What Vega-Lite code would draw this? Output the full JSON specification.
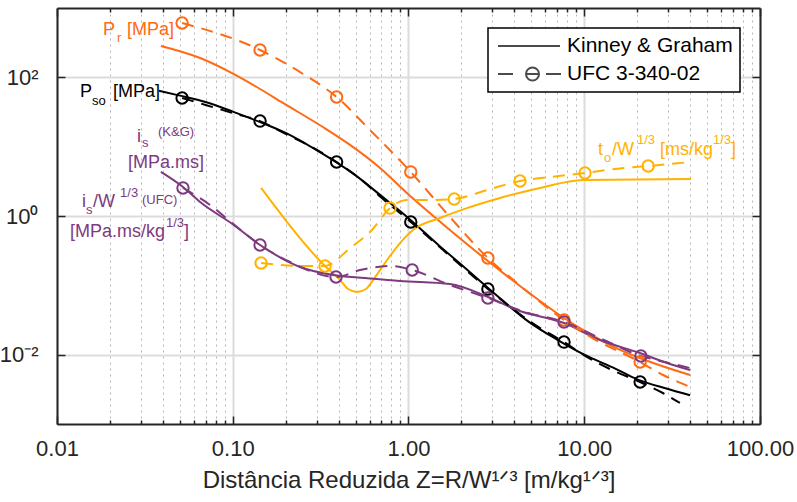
{
  "$schema": "https://vega.github.io/schema/vega-lite/v6.json",
  "width": 703,
  "height": 416,
  "autosize": "none",
  "padding": {"left": 57, "top": 8, "right": 37, "bottom": 78},
  "background": "white",
  "config": {
    "font": "Liberation Sans",
    "view": {"stroke": null},
    "axis": {"labelFont": "Liberation Sans", "titleFont": "Liberation Sans"},
    "legend": {"strokeWidth": 1.5}
  },
  "datasets": {
    "curves": [
      {"series": "Pso", "source": "Kinney & Graham", "z": 0.038, "v": 64},
      {"series": "Pso", "source": "Kinney & Graham", "z": 0.05, "v": 54.5},
      {"series": "Pso", "source": "Kinney & Graham", "z": 0.07, "v": 44},
      {"series": "Pso", "source": "Kinney & Graham", "z": 0.1, "v": 32},
      {"series": "Pso", "source": "Kinney & Graham", "z": 0.15, "v": 21.5},
      {"series": "Pso", "source": "Kinney & Graham", "z": 0.2, "v": 15.8},
      {"series": "Pso", "source": "Kinney & Graham", "z": 0.3, "v": 8.9},
      {"series": "Pso", "source": "Kinney & Graham", "z": 0.5, "v": 3.85},
      {"series": "Pso", "source": "Kinney & Graham", "z": 0.7, "v": 1.95},
      {"series": "Pso", "source": "Kinney & Graham", "z": 1.0, "v": 0.93},
      {"series": "Pso", "source": "Kinney & Graham", "z": 1.5, "v": 0.37},
      {"series": "Pso", "source": "Kinney & Graham", "z": 2.0, "v": 0.198},
      {"series": "Pso", "source": "Kinney & Graham", "z": 3.0, "v": 0.081},
      {"series": "Pso", "source": "Kinney & Graham", "z": 5.0, "v": 0.028},
      {"series": "Pso", "source": "Kinney & Graham", "z": 7.0, "v": 0.0165},
      {"series": "Pso", "source": "Kinney & Graham", "z": 10.0, "v": 0.0100},
      {"series": "Pso", "source": "Kinney & Graham", "z": 15.0, "v": 0.0063},
      {"series": "Pso", "source": "Kinney & Graham", "z": 20.0, "v": 0.0044},
      {"series": "Pso", "source": "Kinney & Graham", "z": 30.0, "v": 0.0032},
      {"series": "Pso", "source": "Kinney & Graham", "z": 40.0, "v": 0.0026},

      {"series": "Pso", "source": "UFC 3-340-02", "z": 0.0515, "v": 50.4},
      {"series": "Pso", "source": "UFC 3-340-02", "z": 0.07, "v": 40},
      {"series": "Pso", "source": "UFC 3-340-02", "z": 0.1, "v": 30.5},
      {"series": "Pso", "source": "UFC 3-340-02", "z": 0.143, "v": 23.4},
      {"series": "Pso", "source": "UFC 3-340-02", "z": 0.2, "v": 15.3},
      {"series": "Pso", "source": "UFC 3-340-02", "z": 0.27, "v": 10.5},
      {"series": "Pso", "source": "UFC 3-340-02", "z": 0.39, "v": 6.0},
      {"series": "Pso", "source": "UFC 3-340-02", "z": 0.55, "v": 3.2},
      {"series": "Pso", "source": "UFC 3-340-02", "z": 0.7, "v": 1.85},
      {"series": "Pso", "source": "UFC 3-340-02", "z": 1.03, "v": 0.82},
      {"series": "Pso", "source": "UFC 3-340-02", "z": 1.5, "v": 0.36},
      {"series": "Pso", "source": "UFC 3-340-02", "z": 2.0, "v": 0.19},
      {"series": "Pso", "source": "UFC 3-340-02", "z": 2.83, "v": 0.0885},
      {"series": "Pso", "source": "UFC 3-340-02", "z": 4.0, "v": 0.044},
      {"series": "Pso", "source": "UFC 3-340-02", "z": 5.5, "v": 0.025},
      {"series": "Pso", "source": "UFC 3-340-02", "z": 7.67, "v": 0.0152},
      {"series": "Pso", "source": "UFC 3-340-02", "z": 10.0, "v": 0.0098},
      {"series": "Pso", "source": "UFC 3-340-02", "z": 14.0, "v": 0.0062},
      {"series": "Pso", "source": "UFC 3-340-02", "z": 20.8, "v": 0.00403},
      {"series": "Pso", "source": "UFC 3-340-02", "z": 28.0, "v": 0.0028},
      {"series": "Pso", "source": "UFC 3-340-02", "z": 35.0, "v": 0.00201},

      {"series": "Pr", "source": "Kinney & Graham", "z": 0.039, "v": 283},
      {"series": "Pr", "source": "Kinney & Graham", "z": 0.0652, "v": 190},
      {"series": "Pr", "source": "Kinney & Graham", "z": 0.0991, "v": 115},
      {"series": "Pr", "source": "Kinney & Graham", "z": 0.143, "v": 67.9},
      {"series": "Pr", "source": "Kinney & Graham", "z": 0.193, "v": 42.7},
      {"series": "Pr", "source": "Kinney & Graham", "z": 0.326, "v": 19.2},
      {"series": "Pr", "source": "Kinney & Graham", "z": 0.465, "v": 10.6},
      {"series": "Pr", "source": "Kinney & Graham", "z": 0.689, "v": 4.92},
      {"series": "Pr", "source": "Kinney & Graham", "z": 0.993, "v": 2.07},
      {"series": "Pr", "source": "Kinney & Graham", "z": 1.72, "v": 0.628},
      {"series": "Pr", "source": "Kinney & Graham", "z": 2.83, "v": 0.224},
      {"series": "Pr", "source": "Kinney & Graham", "z": 4.31, "v": 0.0977},
      {"series": "Pr", "source": "Kinney & Graham", "z": 7.67, "v": 0.0338},
      {"series": "Pr", "source": "Kinney & Graham", "z": 9.84, "v": 0.0227},
      {"series": "Pr", "source": "Kinney & Graham", "z": 14.0, "v": 0.01377},
      {"series": "Pr", "source": "Kinney & Graham", "z": 20.7, "v": 0.00895},
      {"series": "Pr", "source": "Kinney & Graham", "z": 40.0, "v": 0.00509},

      {"series": "Pr", "source": "UFC 3-340-02", "z": 0.0515, "v": 608},
      {"series": "Pr", "source": "UFC 3-340-02", "z": 0.143, "v": 248},
      {"series": "Pr", "source": "UFC 3-340-02", "z": 0.2415, "v": 119},
      {"series": "Pr", "source": "UFC 3-340-02", "z": 0.39, "v": 52.0},
      {"series": "Pr", "source": "UFC 3-340-02", "z": 0.619, "v": 16.3},
      {"series": "Pr", "source": "UFC 3-340-02", "z": 1.03, "v": 4.32},
      {"series": "Pr", "source": "UFC 3-340-02", "z": 1.72, "v": 0.967},
      {"series": "Pr", "source": "UFC 3-340-02", "z": 2.83, "v": 0.248},
      {"series": "Pr", "source": "UFC 3-340-02", "z": 4.14, "v": 0.108},
      {"series": "Pr", "source": "UFC 3-340-02", "z": 7.67, "v": 0.0316},
      {"series": "Pr", "source": "UFC 3-340-02", "z": 11.2, "v": 0.0172},
      {"series": "Pr", "source": "UFC 3-340-02", "z": 20.8, "v": 0.00783},
      {"series": "Pr", "source": "UFC 3-340-02", "z": 28.1, "v": 0.00509},
      {"series": "Pr", "source": "UFC 3-340-02", "z": 38.9, "v": 0.00353},

      {"series": "to", "source": "Kinney & Graham", "z": 0.145, "v": 2.54},
      {"series": "to", "source": "Kinney & Graham", "z": 0.335, "v": 0.19},
      {"series": "to", "source": "Kinney & Graham", "z": 0.408, "v": 0.119},
      {"series": "to", "source": "Kinney & Graham", "z": 0.453, "v": 0.0885},
      {"series": "to", "source": "Kinney & Graham", "z": 0.509, "v": 0.0802},
      {"series": "to", "source": "Kinney & Graham", "z": 0.573, "v": 0.0885},
      {"series": "to", "source": "Kinney & Graham", "z": 0.628, "v": 0.119},
      {"series": "to", "source": "Kinney & Graham", "z": 0.755, "v": 0.232},
      {"series": "to", "source": "Kinney & Graham", "z": 0.895, "v": 0.407},
      {"series": "to", "source": "Kinney & Graham", "z": 1.06, "v": 0.628},
      {"series": "to", "source": "Kinney & Graham", "z": 1.51, "v": 0.935},
      {"series": "to", "source": "Kinney & Graham", "z": 2.15, "v": 1.30},
      {"series": "to", "source": "Kinney & Graham", "z": 3.32, "v": 1.82},
      {"series": "to", "source": "Kinney & Graham", "z": 5.6, "v": 2.54},
      {"series": "to", "source": "Kinney & Graham", "z": 9.84, "v": 3.30},
      {"series": "to", "source": "Kinney & Graham", "z": 40.5, "v": 3.41},

      {"series": "to", "source": "UFC 3-340-02", "z": 0.145, "v": 0.21},
      {"series": "to", "source": "UFC 3-340-02", "z": 0.2415, "v": 0.19},
      {"series": "to", "source": "UFC 3-340-02", "z": 0.335, "v": 0.19},
      {"series": "to", "source": "UFC 3-340-02", "z": 0.465, "v": 0.345},
      {"series": "to", "source": "UFC 3-340-02", "z": 0.619, "v": 0.628},
      {"series": "to", "source": "UFC 3-340-02", "z": 0.785, "v": 1.30},
      {"series": "to", "source": "UFC 3-340-02", "z": 0.981, "v": 1.70},
      {"series": "to", "source": "UFC 3-340-02", "z": 1.325, "v": 1.70},
      {"series": "to", "source": "UFC 3-340-02", "z": 1.82, "v": 1.76},
      {"series": "to", "source": "UFC 3-340-02", "z": 2.8, "v": 2.37},
      {"series": "to", "source": "UFC 3-340-02", "z": 4.31, "v": 3.20},
      {"series": "to", "source": "UFC 3-340-02", "z": 6.38, "v": 3.65},
      {"series": "to", "source": "UFC 3-340-02", "z": 10.1, "v": 4.17},
      {"series": "to", "source": "UFC 3-340-02", "z": 15.0, "v": 4.77},
      {"series": "to", "source": "UFC 3-340-02", "z": 23.1, "v": 5.26},
      {"series": "to", "source": "UFC 3-340-02", "z": 40.0, "v": 6.0},

      {"series": "is", "source": "Kinney & Graham", "z": 0.039, "v": 4.32},
      {"series": "is", "source": "Kinney & Graham", "z": 0.0521, "v": 2.62},
      {"series": "is", "source": "Kinney & Graham", "z": 0.0652, "v": 1.59},
      {"series": "is", "source": "Kinney & Graham", "z": 0.1, "v": 0.76},
      {"series": "is", "source": "Kinney & Graham", "z": 0.143, "v": 0.382},
      {"series": "is", "source": "Kinney & Graham", "z": 0.2415, "v": 0.1837},
      {"series": "is", "source": "Kinney & Graham", "z": 0.372, "v": 0.141},
      {"series": "is", "source": "Kinney & Graham", "z": 0.566, "v": 0.1276},
      {"series": "is", "source": "Kinney & Graham", "z": 0.895, "v": 0.1154},
      {"series": "is", "source": "Kinney & Graham", "z": 1.72, "v": 0.1045},
      {"series": "is", "source": "Kinney & Graham", "z": 2.83, "v": 0.0679},
      {"series": "is", "source": "Kinney & Graham", "z": 4.14, "v": 0.0441},
      {"series": "is", "source": "Kinney & Graham", "z": 7.67, "v": 0.0286},
      {"series": "is", "source": "Kinney & Graham", "z": 12.3, "v": 0.01626},
      {"series": "is", "source": "Kinney & Graham", "z": 20.7, "v": 0.01056},
      {"series": "is", "source": "Kinney & Graham", "z": 29.6, "v": 0.00759},
      {"series": "is", "source": "Kinney & Graham", "z": 40.0, "v": 0.00601},

      {"series": "is", "source": "UFC 3-340-02", "z": 0.0521, "v": 2.54},
      {"series": "is", "source": "UFC 3-340-02", "z": 0.0743, "v": 1.44},
      {"series": "is", "source": "UFC 3-340-02", "z": 0.1, "v": 0.78},
      {"series": "is", "source": "UFC 3-340-02", "z": 0.143, "v": 0.382},
      {"series": "is", "source": "UFC 3-340-02", "z": 0.212, "v": 0.217},
      {"series": "is", "source": "UFC 3-340-02", "z": 0.387, "v": 0.1318},
      {"series": "is", "source": "UFC 3-340-02", "z": 0.53, "v": 0.1663},
      {"series": "is", "source": "UFC 3-340-02", "z": 0.8, "v": 0.19},
      {"series": "is", "source": "UFC 3-340-02", "z": 1.05, "v": 0.1663},
      {"series": "is", "source": "UFC 3-340-02", "z": 1.72, "v": 0.1011},
      {"series": "is", "source": "UFC 3-340-02", "z": 2.83, "v": 0.0657},
      {"series": "is", "source": "UFC 3-340-02", "z": 4.6, "v": 0.0412},
      {"series": "is", "source": "UFC 3-340-02", "z": 7.67, "v": 0.0296},
      {"series": "is", "source": "UFC 3-340-02", "z": 12.3, "v": 0.01738},
      {"series": "is", "source": "UFC 3-340-02", "z": 21.0, "v": 0.00957},
      {"series": "is", "source": "UFC 3-340-02", "z": 28.8, "v": 0.00783},
      {"series": "is", "source": "UFC 3-340-02", "z": 40.0, "v": 0.00642}
    ],
    "markers": [
      {"series": "Pso", "z": 0.0515, "v": 50.4},
      {"series": "Pso", "z": 0.143, "v": 23.4},
      {"series": "Pso", "z": 0.39, "v": 6.0},
      {"series": "Pso", "z": 1.03, "v": 0.82},
      {"series": "Pso", "z": 2.83, "v": 0.0885},
      {"series": "Pso", "z": 7.67, "v": 0.0152},
      {"series": "Pso", "z": 20.8, "v": 0.00403},
      {"series": "Pr", "z": 0.0515, "v": 608},
      {"series": "Pr", "z": 0.143, "v": 248},
      {"series": "Pr", "z": 0.39, "v": 52.0},
      {"series": "Pr", "z": 1.03, "v": 4.32},
      {"series": "Pr", "z": 2.83, "v": 0.248},
      {"series": "Pr", "z": 7.67, "v": 0.0316},
      {"series": "Pr", "z": 20.8, "v": 0.00783},
      {"series": "is", "z": 0.0521, "v": 2.54},
      {"series": "is", "z": 0.143, "v": 0.382},
      {"series": "is", "z": 0.387, "v": 0.1318},
      {"series": "is", "z": 1.05, "v": 0.1663},
      {"series": "is", "z": 2.83, "v": 0.0657},
      {"series": "is", "z": 7.67, "v": 0.0296},
      {"series": "is", "z": 21.0, "v": 0.00957},
      {"series": "to", "z": 0.145, "v": 0.21},
      {"series": "to", "z": 0.335, "v": 0.19},
      {"series": "to", "z": 0.785, "v": 1.30},
      {"series": "to", "z": 1.82, "v": 1.76},
      {"series": "to", "z": 4.31, "v": 3.20},
      {"series": "to", "z": 10.1, "v": 4.17},
      {"series": "to", "z": 23.1, "v": 5.26}
    ],
    "labels": [
      {"series": "Pr", "part": "main", "z": 0.01828, "v": 407.9, "text": "P"},
      {"series": "Pr", "part": "script", "z": 0.02195, "v": 323.2, "text": "r"},
      {"series": "Pr", "part": "main", "z": 0.02502, "v": 407.9, "text": "[MPa]"},
      {"series": "Pso", "part": "main", "z": 0.01352, "v": 52.03, "text": "P"},
      {"series": "Pso", "part": "script", "z": 0.01581, "v": 39.89, "text": "so"},
      {"series": "Pso", "part": "main", "z": 0.02083, "v": 52.03, "text": "[MPa]"},
      {"series": "is", "part": "main", "z": 0.02851, "v": 11.67, "text": "i"},
      {"series": "is", "part": "script", "z": 0.03046, "v": 9.888, "text": "s"},
      {"series": "is", "part": "script", "z": 0.03755, "v": 14.25, "text": "(K&G)"},
      {"series": "is", "part": "main", "z": 0.02535, "v": 4.922, "text": "[MPa.ms]"},
      {"series": "is", "part": "main", "z": 0.01388, "v": 1.348, "text": "i"},
      {"series": "is", "part": "script", "z": 0.01462, "v": 1.068, "text": "s"},
      {"series": "is", "part": "main", "z": 0.01602, "v": 1.348, "text": "/W"},
      {"series": "is", "part": "script", "z": 0.02284, "v": 1.879, "text": "1/3"},
      {"series": "is", "part": "script", "z": 0.03046, "v": 1.489, "text": "(UFC)"},
      {"series": "is", "part": "main", "z": 0.01186, "v": 0.4977, "text": "[MPa.ms/kg"},
      {"series": "is", "part": "script", "z": 0.04172, "v": 0.6937, "text": "1/3"},
      {"series": "is", "part": "main", "z": 0.0528, "v": 0.4977, "text": "]"},
      {"series": "to", "part": "main", "z": 11.97, "v": 7.58, "text": "t"},
      {"series": "to", "part": "script", "z": 12.96, "v": 6.007, "text": "o"},
      {"series": "to", "part": "main", "z": 14.38, "v": 7.58, "text": "/W"},
      {"series": "to", "part": "script", "z": 19.96, "v": 10.92, "text": "1/3"},
      {"series": "to", "part": "main", "z": 26.98, "v": 7.58, "text": "[ms/kg"},
      {"series": "to", "part": "script", "z": 54.03, "v": 10.92, "text": "1/3"},
      {"series": "to", "part": "main", "z": 68.39, "v": 7.58, "text": "]"}
    ]
  },
  "layer": [
    {
      "data": {"name": "curves"},
      "transform": [{"filter": "datum.source === 'Kinney & Graham'"}],
      "mark": {"type": "line", "strokeWidth": 2, "interpolate": "monotone"},
      "encoding": {
        "x": {
          "field": "z", "type": "quantitative",
          "scale": {"type": "log", "domain": [0.01, 100], "nice": false},
          "axis": {
            "orient": "bottom",
            "values": [0.01,0.02,0.03,0.04,0.05,0.06,0.07,0.08,0.09,0.1,0.2,0.3,0.4,0.5,0.6,0.7,0.8,0.9,1,2,3,4,5,6,7,8,9,10,20,30,40,50,60,70,80,90,100],
            "title": "Distância Reduzida Z=R/W¹ᐟ³ [m/kg¹ᐟ³]",
            "titleFontSize": 24, "titleFontWeight": "normal", "titleColor": "#262626", "titlePadding": 5,
            "labelExpr": "indexof([0.01,0.1,1,10,100], datum.value) >= 0 ? format(datum.value, '.2f') : ''",
            "labelFontSize": 22, "labelColor": "#262626", "labelPadding": 22,
            "labelFlush": false, "labelOverlap": false, "labelBound": false,
            "tickSize": {"condition": {"test": "indexof([0.01,0.1,1,10,100], datum.value) >= 0", "value": -8}, "value": -4},
            "tickWidth": 1.5, "tickColor": "#262626",
            "domainColor": "#262626", "domainWidth": 2,
            "grid": true,
            "gridColor": {"condition": {"test": "indexof([0.01,0.1,1,10,100], datum.value) >= 0", "value": "#dcdcdc"}, "value": "#b4b4b4"},
            "gridDash": {"condition": {"test": "indexof([0.01,0.1,1,10,100], datum.value) >= 0", "value": []}, "value": [2, 4]},
            "gridWidth": {"condition": {"test": "indexof([0.01,0.1,1,10,100], datum.value) >= 0", "value": 2}, "value": 1}
          }
        },
        "y": {
          "field": "v", "type": "quantitative",
          "scale": {"type": "log", "domain": [0.001, 1000], "nice": false},
          "axis": {
            "orient": "left",
            "values": [0.01, 1, 100],
            "title": null,
            "labelExpr": "datum.value == 0.01 ? '10⁻²' : datum.value == 1 ? '10⁰' : '10²'",
            "labelFontSize": 22, "labelColor": "#262626", "labelPadding": 27,
            "tickSize": -8, "tickWidth": 1.5, "tickColor": "#262626",
            "domainColor": "#262626", "domainWidth": 2,
            "grid": true, "gridColor": "#dcdcdc", "gridWidth": 2
          }
        },
        "color": {
          "field": "series", "type": "nominal",
          "scale": {"domain": ["Pso", "Pr", "is", "to"], "range": ["#000000", "#FF6A13", "#7E3A7E", "#FFB300"]},
          "legend": null
        }
      }
    },
    {
      "data": {"name": "curves"},
      "transform": [{"filter": "datum.source === 'UFC 3-340-02'"}],
      "mark": {"type": "line", "strokeWidth": 2, "strokeDash": [12, 8], "interpolate": "monotone"},
      "encoding": {
        "x": {
          "field": "z", "type": "quantitative",
          "axis": {
            "orient": "top",
            "values": [0.01,0.02,0.03,0.04,0.05,0.06,0.07,0.08,0.09,0.1,0.2,0.3,0.4,0.5,0.6,0.7,0.8,0.9,1,2,3,4,5,6,7,8,9,10,20,30,40,50,60,70,80,90,100],
            "title": null, "labels": false, "grid": false,
            "tickSize": {"condition": {"test": "indexof([0.01,0.1,1,10,100], datum.value) >= 0", "value": -8}, "value": -4},
            "tickWidth": 1.5, "tickColor": "#262626",
            "domainColor": "#262626", "domainWidth": 2
          }
        },
        "y": {
          "field": "v", "type": "quantitative",
          "axis": {
            "orient": "right",
            "values": [0.01, 1, 100],
            "title": null, "labels": false, "grid": false,
            "tickSize": -8, "tickWidth": 1.5, "tickColor": "#262626",
            "domainColor": "#262626", "domainWidth": 2
          }
        },
        "color": {"field": "series", "type": "nominal", "legend": null}
      }
    },
    {
      "data": {"name": "markers"},
      "mark": {"type": "point", "filled": false, "size": 130, "strokeWidth": 2, "opacity": 1},
      "encoding": {
        "x": {"field": "z", "type": "quantitative", "axis": null},
        "y": {"field": "v", "type": "quantitative", "axis": null},
        "color": {"field": "series", "type": "nominal", "legend": null}
      }
    },
    {
      "data": {"name": "markers"},
      "transform": [{"filter": "false"}],
      "mark": {"type": "point", "filled": false, "color": "black"},
      "encoding": {
        "x": {"field": "z", "type": "quantitative", "axis": null},
        "y": {"field": "v", "type": "quantitative", "axis": null},
        "shape": {
          "field": "source", "type": "nominal",
          "scale": {
            "domain": ["Kinney & Graham", "UFC 3-340-02"],
            "range": ["M-0.8,0L5.4,0", "M-0.8,0L0.7,0M4.0,0L5.5,0M3.3,0A0.65,0.65 0 1 1 2.0,0A0.65,0.65 0 1 1 3.3,0M2.0,0L3.3,0"]
          },
          "legend": {
            "title": null, "orient": "top-right", "offset": 20, "padding": 7,
            "strokeColor": "#000000", "fillColor": "white",
            "labelFontSize": 21, "labelColor": "#000000", "labelFont": "Liberation Sans", "labelLimit": 400,
            "symbolSize": 400, "symbolStrokeWidth": 2, "symbolStrokeColor": "#000000", "symbolFillColor": "transparent",
            "labelOffset": 50, "rowPadding": 7
          }
        }
      }
    },
    {
      "data": {"name": "labels"},
      "transform": [{"filter": "datum.part === 'main'"}],
      "mark": {"type": "text", "align": "left", "baseline": "alphabetic", "fontSize": 18, "font": "Liberation Sans"},
      "encoding": {
        "x": {"field": "z", "type": "quantitative", "axis": null},
        "y": {"field": "v", "type": "quantitative", "axis": null},
        "text": {"field": "text"},
        "color": {"field": "series", "type": "nominal", "legend": null}
      }
    },
    {
      "data": {"name": "labels"},
      "transform": [{"filter": "datum.part === 'script'"}],
      "mark": {"type": "text", "align": "left", "baseline": "alphabetic", "fontSize": 13, "font": "Liberation Sans"},
      "encoding": {
        "x": {"field": "z", "type": "quantitative", "axis": null},
        "y": {"field": "v", "type": "quantitative", "axis": null},
        "text": {"field": "text"},
        "color": {"field": "series", "type": "nominal", "legend": null}
      }
    }
  ],
  "resolve": {"axis": {"x": "independent", "y": "independent"}}
}
